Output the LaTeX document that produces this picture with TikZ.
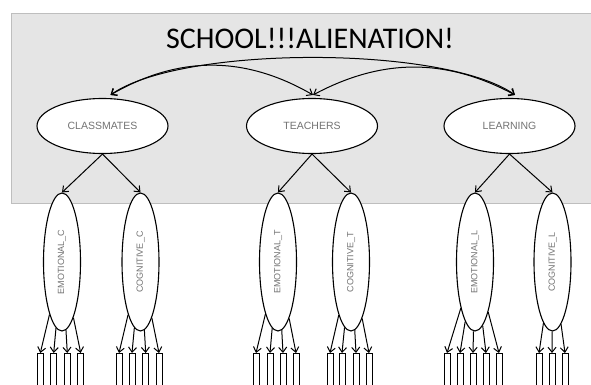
\documentclass[tikz,border=0pt]{standalone}
\usepackage{graphicx}
\usepackage{fontspec}
\setmainfont{Liberation Sans}
\newfontfamily\titlefont{Carlito}
\usepackage{xcolor}
\usetikzlibrary{arrows.meta,shapes.geometric}

\definecolor{panelgray}{RGB}{229,229,229}
\definecolor{rimgray}{RGB}{190,190,190}
\definecolor{labelgray}{RGB}{115,115,115}

\begin{document}
\begin{tikzpicture}[x=1pt, y=-1pt,
    >={Straight Barb[length=5pt,width=8pt]},
    factor/.style={ellipse, draw, line width=1.1pt, fill=white, inner sep=0pt,
        minimum width=131pt, minimum height=55pt,
        font=\fontsize{10.5}{12}\selectfont, text=labelgray},
    dim/.style={ellipse, draw, line width=1.1pt, fill=white, inner sep=0pt,
        minimum width=37pt, minimum height=138pt,
        font=\fontsize{9}{10}\selectfont, text=labelgray},
    item/.style={draw, line width=1pt, inner sep=0pt, anchor=north,
        minimum width=6pt, minimum height=45pt},
    link/.style={line width=1pt}]
    \path[use as bounding box] (0,0) rectangle (591,385);
    \clip (0,0) rectangle (591,385);

    % panel
    \draw[draw=rimgray, fill=panelgray, line width=1pt] (11.5,13.5) rectangle (600,203);
    \node (title) at (310,38) {\titlefont\fontsize{30}{36}\selectfont SCHOOL!!!ALIENATION!};

    % second order factors
    \node[factor] (cls) at (102.5,126) {CLASSMATES};
    \node[factor] (tch) at (312,126) {TEACHERS};
    \node[factor] (lrn) at (509.5,126) {LEARNING};

    \draw[link, <->] ([xshift=8pt,yshift=3pt]cls.north) to[bend left=30] ([xshift=1pt,yshift=3pt]tch.north);
    \draw[link, <->] ([xshift=8pt,yshift=3pt]cls.north) to[out=35, in=145, looseness=0.55] ([xshift=5.5pt,yshift=3pt]lrn.north);
    \draw[link, <->] ([xshift=1pt,yshift=3pt]tch.north) to[bend left=28] ([xshift=5.5pt,yshift=3pt]lrn.north);

    % first order factors
    \node[dim] (emoC) at (62,262) {\rotatebox{90}{EMOTIONAL\_C}};
    \node[dim] (cogC) at (140.5,262) {\rotatebox{90}{COGNITIVE\_C}};
    \node[dim] (emoT) at (278,262) {\rotatebox{90}{EMOTIONAL\_T}};
    \node[dim] (cogT) at (351,262) {\rotatebox{90}{COGNITIVE\_T}};
    \node[dim] (emoL) at (475,262) {\rotatebox{90}{EMOTIONAL\_L}};
    \node[dim] (cogL) at (552.5,262) {\rotatebox{90}{COGNITIVE\_L}};

    \draw[link, ->] (cls.south) -- (emoC.north);
    \draw[link, ->] (cls.south) -- (cogC.north);
    \draw[link, ->] (tch.south) -- (emoT.north);
    \draw[link, ->] (tch.south) -- (cogT.north);
    \draw[link, ->] (lrn.south) -- (emoL.north);
    \draw[link, ->] (lrn.south) -- (cogL.north);

    % items
    \foreach \f/\xs in {emoC/{40.3,53.7,67.3,80.7}, cogC/{119,132,145.7,159},
                        emoT/{256,270,283,296}, cogT/{330,342,356,369},
                        emoL/{447,460,473,486,499}, cogL/{539,552,565}} {
        \foreach \x [count=\i] in \xs {
            \node[item] (\f\i) at (\x,353) {};
            \draw[link, ->] (\f) -- (\f\i.north);
        }
    }
\end{tikzpicture}
\end{document}
